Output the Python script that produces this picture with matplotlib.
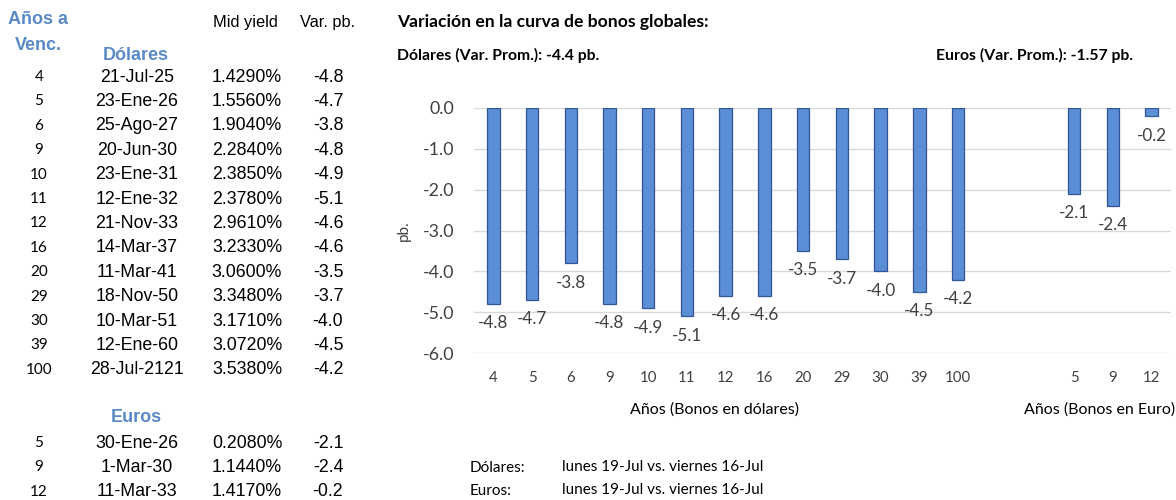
'''
variacion curva de bonos globales - tabla + barras
'''

import matplotlib
matplotlib.use('Agg')
from matplotlib import pyplot as plt

# datos
years_usd = [4, 5, 6, 9, 10, 11, 12, 16, 20, 29, 30, 39, 100]
dates_usd = ['21-Jul-25', '23-Ene-26', '25-Ago-27', '20-Jun-30', '23-Ene-31', '12-Ene-32',
             '21-Nov-33', '14-Mar-37', '11-Mar-41', '18-Nov-50', '10-Mar-51', '12-Ene-60',
             '28-Jul-2121']
yield_usd = [1.4290, 1.5560, 1.9040, 2.2840, 2.3850, 2.3780, 2.9610, 3.2330, 3.0600,
             3.3480, 3.1710, 3.0720, 3.5380]
var_usd = [-4.8, -4.7, -3.8, -4.8, -4.9, -5.1, -4.6, -4.6, -3.5, -3.7, -4.0, -4.5, -4.2]

years_eur = [5, 9, 12]
dates_eur = ['30-Ene-26', '1-Mar-30', '11-Mar-33']
yield_eur = [0.2080, 1.1440, 1.4170]
var_eur = [-2.1, -2.4, -0.2]

avg_usd = -4.4
avg_eur = -1.57

BLUE_HDR = '#5A8AC6'
BAR = '#5B8ED6'
BAR_EDGE = '#2F5597'
GREY = '#404040'
ARIAL = 'Liberation Sans'
CALI = 'Lato'

fig = plt.figure(figsize=(11.76, 5.0), dpi=100)
W, H = 1176., 500.

def ft(x, y, s, **kw):
    # texto en coordenadas de pixel (origen arriba a la izquierda)
    fig.text(x / W, 1 - y / H, s, **kw)

# ---- tabla izquierda ----
ft(38, 20, 'Años a', ha='center', va='center', fontsize=13, fontweight='bold',
   color=BLUE_HDR, family=ARIAL)
ft(38, 46, 'Venc.', ha='center', va='center', fontsize=13, fontweight='bold',
   color=BLUE_HDR, family=ARIAL)
ft(136, 56, 'Dólares', ha='center', va='center', fontsize=13, fontweight='bold',
   color=BLUE_HDR, family=ARIAL)
ft(245, 22, 'Mid yield', ha='center', va='center', fontsize=11.8, color='black', family=ARIAL)
ft(328, 22, 'Var. pb.', ha='center', va='center', fontsize=11.8, color='black', family=ARIAL)

def rows(y0, years, dates, ylds, vars_):
    for i in range(len(years)):
        y = y0 + i * 24.4
        ft(39, y, str(years[i]), ha='center', va='center', fontsize=11, family=CALI)
        ft(137, y, dates[i], ha='center', va='center', fontsize=12.8, family=ARIAL)
        ft(247, y, '%.4f%%' % ylds[i], ha='center', va='center', fontsize=12.8, family=ARIAL)
        ft(328, y, '%.1f' % vars_[i], ha='center', va='center', fontsize=12.8, family=ARIAL)

rows(77, years_usd, dates_usd, yield_usd, var_usd)
ft(136, 418, 'Euros', ha='center', va='center', fontsize=13, fontweight='bold',
   color=BLUE_HDR, family=ARIAL)
rows(443, years_eur, dates_eur, yield_eur, var_eur)

# ---- titulos ----
ft(397, 22, 'Variación en la curva de bonos globales:', ha='left', va='center',
   fontsize=12.6, fontweight='bold', family=CALI)
ft(397, 55, 'Dólares (Var. Prom.): %.1f pb.' % avg_usd, ha='left', va='center',
   fontsize=11.3, fontweight='bold', family=CALI)
ft(1133, 55, 'Euros (Var. Prom.): %.2f pb.' % avg_eur, ha='right', va='center',
   fontsize=11.3, fontweight='bold', family=CALI)

# ---- grafico ----
ax = fig.add_axes([474 / W, 1 - 353 / H, (1171 - 474) / W, (353 - 108) / H])
pos_usd = list(range(len(years_usd)))
pos_eur = [len(years_usd) + 2 + i for i in range(len(years_eur))]
pos = pos_usd + pos_eur
vals = var_usd + var_eur
ax.bar(pos, vals, width=0.32, color=BAR, edgecolor=BAR_EDGE, linewidth=0.9, zorder=3)
for p, v in zip(pos, vals):
    ax.annotate('%.1f' % v, (p, v), xytext=(0, -14), textcoords='offset points',
                ha='center', va='center', fontsize=12.3, color=GREY, family=CALI)

ax.set_xlim(-0.5, pos[-1] + 0.5)
ax.set_ylim(-6, 0)
ax.set_yticks([0, -1, -2, -3, -4, -5, -6])
ax.set_yticklabels(['%.1f' % t for t in [0, -1, -2, -3, -4, -5, -6]], fontsize=12.8,
                   color=GREY, family=CALI)
ax.set_xticks(pos)
ax.set_xticklabels([str(y) for y in years_usd + years_eur], fontsize=10.8, color=GREY,
                   family=CALI)
ax.tick_params(axis='both', length=0)
ax.tick_params(axis='x', pad=13)
ax.tick_params(axis='y', pad=14)
ax.grid(axis='y', color='#D9D9D9', linewidth=1, zorder=0)
ax.set_axisbelow(True)
for s in ax.spines.values():
    s.set_visible(False)
ax.set_ylabel('pb.', fontsize=11, color=GREY, family=CALI, labelpad=9)

ft(715, 410, 'Años (Bonos en dólares)', ha='center', va='center', fontsize=11.5,
   color='black', family=CALI)
ft(1100, 410, 'Años (Bonos en Euro)', ha='center', va='center', fontsize=11.5,
   color='black', family=CALI)

# ---- notas ----
ft(470, 468, 'Dólares:', ha='left', va='center', fontsize=11, family=CALI)
ft(562, 467, 'lunes 19-Jul vs. viernes 16-Jul', ha='left', va='center', fontsize=11, family=CALI)
ft(470, 491, 'Euros:', ha='left', va='center', fontsize=11, family=CALI)
ft(562, 490, 'lunes 19-Jul vs. viernes 16-Jul', ha='left', va='center', fontsize=11, family=CALI)

fig.savefig('out.png', dpi=100)
